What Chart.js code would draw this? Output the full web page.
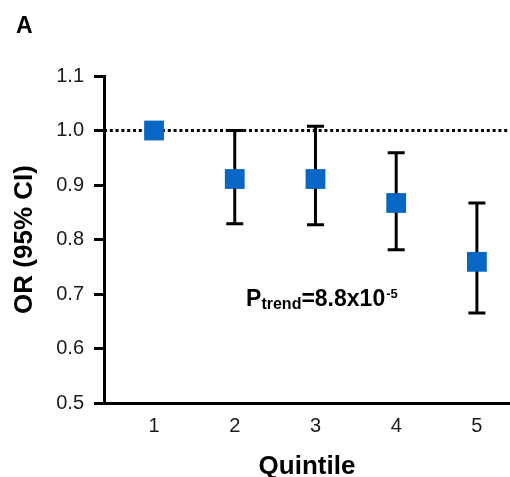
<!DOCTYPE html>
<html>
<head>
<meta charset="utf-8">
<script src="https://cdn.jsdelivr.net/npm/chart.js@4.4.0/dist/chart.umd.min.js"></script>
<style>
  html, body { margin: 0; padding: 0; background: #fff; overflow: hidden; }
  #wrap { width: 510px; height: 477px; position: relative; }
</style>
</head>
<body>
<div id="wrap"><canvas id="orChart"></canvas></div>
<script>
'use strict';

// Quintile data
const quintiles = [1, 2, 3, 4, 5];
const oddsRatio = [1.0, 0.911, 0.911, 0.867, 0.759];
const ciLower = [null, 0.829, 0.827, 0.781, 0.665];
const ciUpper = [null, 1.0, 1.008, 0.959, 0.867];
const yTicks = [0.5, 0.6, 0.7, 0.8, 0.9, 1.0, 1.1];
const refLine = 1.0;

const FONT = "'Liberation Sans', Arial, sans-serif";

// Draws the 95% CI whiskers behind the squares
const errorBars = {
    id: 'errorBars',
    beforeDatasetsDraw(chart) {
        const { ctx, scales: { x, y } } = chart;
        ctx.save();
        ctx.strokeStyle = '#000';
        ctx.lineWidth = 3;
        quintiles.forEach((q, i) => {
            if (ciLower[i] == null) return;
            const px = x.getPixelForValue(q);
            const lo = y.getPixelForValue(ciLower[i]);
            const hi = y.getPixelForValue(ciUpper[i]);
            ctx.beginPath();
            ctx.moveTo(px, lo);
            ctx.lineTo(px, hi);
            ctx.moveTo(px - 8.5, lo);
            ctx.lineTo(px + 8.5, lo);
            ctx.moveTo(px - 8.5, hi);
            ctx.lineTo(px + 8.5, hi);
            ctx.stroke();
        });
        ctx.restore();
    }
};

// Panel letter and trend p-value
const labels = {
    id: 'labels',
    afterDraw(chart) {
        const { ctx, scales: { x, y } } = chart;
        ctx.save();
        ctx.fillStyle = '#000';
        ctx.textBaseline = 'alphabetic';
        ctx.textAlign = 'left';
        ctx.font = 'bold 23px ' + FONT;
        ctx.fillText('A', 16, 33);

        let px = x.getPixelForValue(2.14);
        const py = y.getPixelForValue(0.678);
        ctx.font = 'bold 23px ' + FONT;
        ctx.fillText('P', px, py);
        px += ctx.measureText('P').width;
        ctx.font = 'bold 16px ' + FONT;
        ctx.fillText('trend', px, py + 3);
        px += ctx.measureText('trend').width;
        ctx.font = 'bold 23px ' + FONT;
        ctx.fillText('=8.8x10', px, py);
        px += ctx.measureText('=8.8x10').width;
        ctx.font = 'bold 13px ' + FONT;
        ctx.fillText('-5', px + 1, py - 8);
        ctx.restore();
    }
};

new Chart(document.getElementById('orChart'), {
    type: 'scatter',
    data: {
        datasets: [{
            type: 'line',
            data: [{ x: 0.38, y: refLine }, { x: 5.41, y: refLine }],
            borderColor: '#000',
            borderWidth: 3,
            borderDash: [3, 2.8],
            borderCapStyle: 'butt',
            pointRadius: 0,
            order: 2
        }, {
            data: quintiles.map((q, i) => ({ x: q, y: oddsRatio[i] })),
            pointStyle: 'rect',
            pointRadius: 14,
            pointHoverRadius: 14,
            backgroundColor: '#0866c4',
            borderColor: '#0866c4',
            borderWidth: 0,
            order: 1
        }]
    },
    options: {
        responsive: true,
        maintainAspectRatio: false,
        animation: false,
        layout: {
            autoPadding: false,
            padding: { top: 76, right: 0, bottom: 0, left: 9 }
        },
        plugins: {
            legend: { display: false },
            tooltip: { enabled: false }
        },
        scales: {
            x: {
                type: 'linear',
                min: 0.38,
                max: 5.41,
                afterBuildTicks: scale => {
                    scale.ticks = quintiles.map(v => ({ value: v }));
                },
                afterFit: scale => {
                    scale.height = 74;
                },
                grid: { display: false, drawTicks: false },
                border: { display: true, color: '#000', width: 3 },
                ticks: {
                    color: '#1a1a1a',
                    padding: 13,
                    font: { family: FONT, size: 20, lineHeight: 1 },
                    callback: v => String(v)
                },
                title: {
                    display: true,
                    text: 'Quintile',
                    color: '#000',
                    padding: { top: 0, bottom: 0 },
                    font: { family: FONT, size: 26, weight: 'bold', lineHeight: 0.8 }
                }
            },
            y: {
                min: 0.5,
                max: 1.1,
                afterBuildTicks: scale => {
                    scale.ticks = yTicks.map(v => ({ value: v }));
                },
                afterFit: scale => {
                    scale.width = 95;
                },
                grid: {
                    display: true,
                    drawOnChartArea: false,
                    drawTicks: true,
                    tickLength: 10,
                    color: '#000',
                    lineWidth: 3
                },
                border: { display: true, color: '#000', width: 3 },
                ticks: {
                    color: '#1a1a1a',
                    padding: 10,
                    font: { family: FONT, size: 20 },
                    callback: v => v.toFixed(1)
                },
                title: {
                    display: true,
                    text: 'OR (95% CI)',
                    color: '#000',
                    padding: { top: 0, bottom: 0 },
                    font: { family: FONT, size: 26, weight: 'bold', lineHeight: 1.2 }
                }
            }
        }
    },
    plugins: [errorBars, labels]
});
</script>
</body>
</html>
